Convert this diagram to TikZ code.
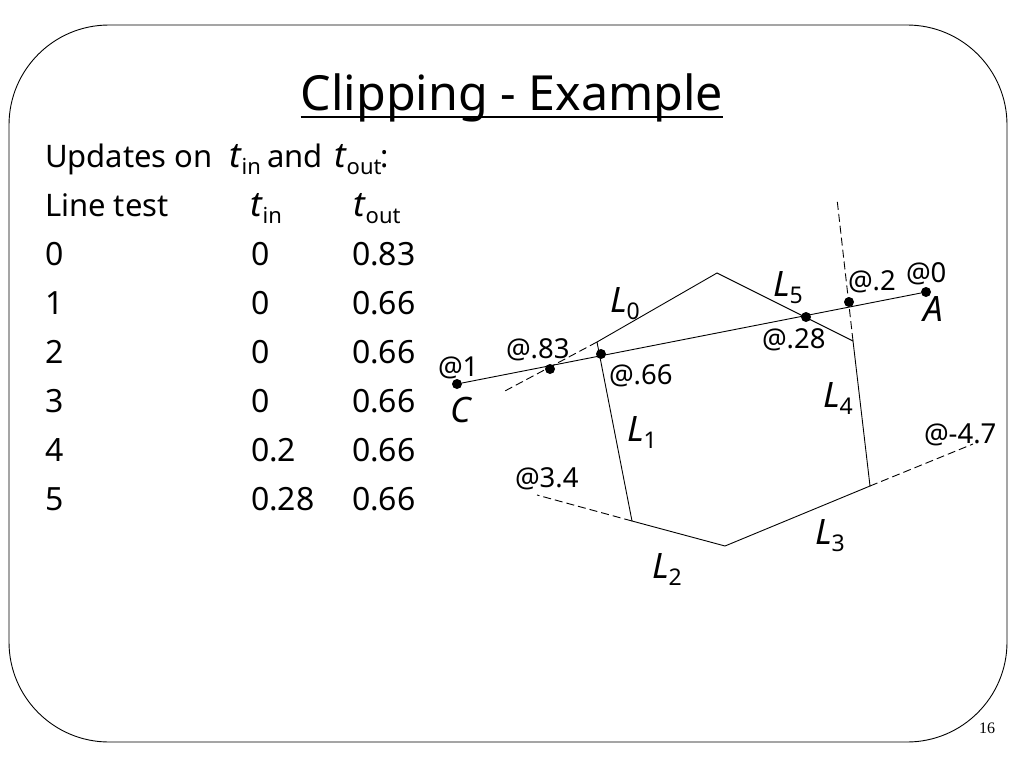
\documentclass[tikz,border=0pt]{standalone}
\usepackage{fontspec}
\setmainfont{Noto Sans}
\newfontfamily\numfont{Liberation Serif}
\tikzset{
  edgeline/.style={line width=0.9pt,black},
  dashline/.style={line width=0.9pt,black,dash pattern=on 8pt off 4pt},
  dotmark/.style={circle,fill=black,draw=none,minimum size=10pt,inner sep=0pt},
  txt/.style={anchor=base west,inner sep=0pt,outer sep=0pt,font=\fontsize{32}{32}\selectfont},
  wordtxt/.style={anchor=base west,inner sep=0pt,outer sep=0pt,font=\fontsize{31}{31}\selectfont},
  lab/.style={anchor=base west,inner sep=0pt,outer sep=0pt,font=\fontsize{27.5}{27.5}\selectfont},
  big/.style={anchor=base west,inner sep=0pt,outer sep=0pt,font=\fontsize{35}{35}\selectfont}
}
\newcommand{\subvar}[2]{\textit{#1}\kern0pt\raisebox{-7pt}{\fontsize{23}{23}\selectfont #2}}
\newcommand{\subt}[1]{\textit{t}\kern0pt\raisebox{-7pt}{\fontsize{22}{22}\selectfont #1}}
\begin{document}
\begin{tikzpicture}[x=1pt,y=-1pt]
\useasboundingbox (0,0) rectangle (1024,768);
\fill[white] (0,0) rectangle (1024,768);
\draw[line width=0.9pt,black,rounded corners=100pt] (9,25) rectangle (1007,742);
\node[anchor=base,inner sep=0pt,font=\fontsize{48.4}{48.4}\selectfont] (title) at (512,110) {Clipping - Example};
\draw[line width=2pt] ([yshift=-7pt]title.base west) -- ([yshift=-7pt]title.base east);
% table
\node[wordtxt] (upd) at (45,167) {Updates on};
\node[big] (ut) at (229,167) {\subt{in}};
\node[wordtxt] (uand) at (267,167) {and};
\node[big] (uto) at (334,167) {\subt{out}};
\node[wordtxt] (ucol) at (380,167) {:};
\node[wordtxt] (h1) at (45,216) {Line test};
\node[big] (h2) at (250,216) {\subt{in}};
\node[big] (h3) at (353,216) {\subt{out}};
\node[txt] (r0a) at (45,265) {0};  \node[txt] (r0b) at (251,265) {0};    \node[txt] (r0c) at (352,265) {0.83};
\node[txt] (r1a) at (45,314) {1};  \node[txt] (r1b) at (251,314) {0};    \node[txt] (r1c) at (352,314) {0.66};
\node[txt] (r2a) at (45,363) {2};  \node[txt] (r2b) at (251,363) {0};    \node[txt] (r2c) at (352,363) {0.66};
\node[txt] (r3a) at (45,412) {3};  \node[txt] (r3b) at (251,412) {0};    \node[txt] (r3c) at (352,412) {0.66};
\node[txt] (r4a) at (45,461) {4};  \node[txt] (r4b) at (251,461) {0.2};  \node[txt] (r4c) at (352,461) {0.66};
\node[txt] (r5a) at (45,510) {5};  \node[txt] (r5b) at (251,510) {0.28}; \node[txt] (r5c) at (352,510) {0.66};
% polygon vertices
\coordinate (v0) at (597,342);
\coordinate (v1) at (632,521);
\coordinate (v2) at (725,546);
\coordinate (v3) at (870,486);
\coordinate (v4) at (853,341);
\coordinate (v5) at (717,273);
\coordinate (e0) at (503,392);
\coordinate (e2) at (537,495);
\coordinate (e3) at (973,444);
\coordinate (e4) at (837,199);
\draw[edgeline] (v0) -- (v1) -- (v2) -- (v3) -- (v4) -- (v5) -- (v0);
\draw[dashline] (v0) -- (e0);
\draw[dashline] (v1) -- (e2);
\draw[dashline] (v3) -- (e3);
\draw[dashline] (v4) -- (e4);
% clip line
\node[dotmark] (A) at (926,292) {};
\node[dotmark] (C) at (457,384) {};
\node[dotmark] (p83) at (550,369) {};
\node[dotmark] (p66) at (601,354) {};
\node[dotmark] (p28) at (806,317) {};
\node[dotmark] (p2) at (849,302) {};
\draw[edgeline] (A) -- (C);
% labels
\node[big] (lA) at (923,321) {\textit{A}};
\node[big] (lC) at (450,422) {\textit{C}};
\node[lab] (t1) at (438,376) {@1};
\node[lab] (t83) at (506,358) {@.83};
\node[lab] (t66) at (609,384) {@.66};
\node[lab] (t28) at (762,348) {@.28};
\node[lab] (t2) at (848,290) {@.2};
\node[lab] (t0) at (906,282) {@0};
\node[lab] (t47) at (924,443) {@-4.7};
\node[lab] (t34) at (515,487) {@3.4};
\node[big] (L0) at (610,312) {\subvar{L}{0}};
\node[big] (L1) at (627,441) {\subvar{L}{1}};
\node[big] (L2) at (652,578) {\subvar{L}{2}};
\node[big] (L3) at (815,544) {\subvar{L}{3}};
\node[big] (L4) at (823,407) {\subvar{L}{4}};
\node[big] (L5) at (773,296) {\subvar{L}{5}};
\node[anchor=base,inner sep=0pt,font=\numfont\fontsize{16}{16}\selectfont] (num) at (987,733) {16};
\end{tikzpicture}
\end{document}
